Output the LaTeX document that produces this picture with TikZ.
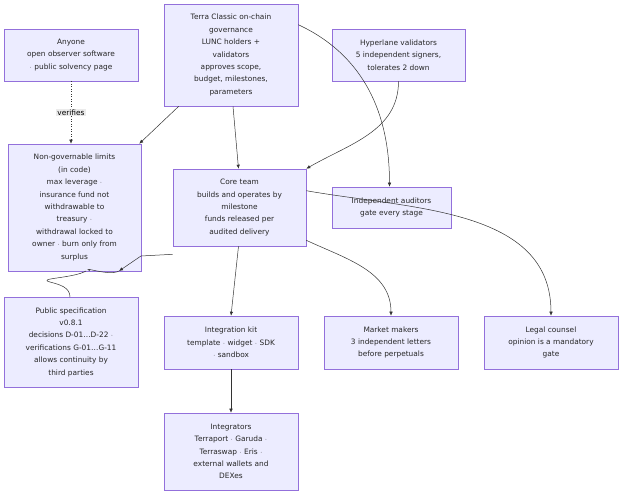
\documentclass[tikz,border=0pt]{standalone}
\usepackage{fontspec}
\setmainfont{DejaVu Sans}
\usetikzlibrary{arrows.meta}
\definecolor{boxfill}{HTML}{ECECFF}
\definecolor{boxline}{HTML}{9370DB}
\definecolor{edgeline}{HTML}{333333}
\tikzset{
  box/.style={draw=boxline,fill=boxfill,line width=0.6pt,align=center,inner sep=0pt,
    font=\fontsize{7.4}{12.4}\selectfont,text=black!85},
  flow/.style={draw=edgeline,line width=0.5pt,-{Latex[length=4pt,width=3.5pt]}},
}
\newcommand{\mkbox}[6]{% name, x1,y1,x2,y2, text
  \node[box,minimum width=#4pt-#2pt,minimum height=#5pt-#3pt] (#1) at ({(#2+#4)/2*1pt},{-(#3+#5)/2*1pt}) {#6};}
\begin{document}
\begin{tikzpicture}[x=1pt,y=1pt]
\useasboundingbox (0,0) rectangle (629,-500);
\mkbox{anyone}{4}{29}{138}{81}{Anyone\\open observer software\\$\cdot$ public solvency page}
\mkbox{terra}{164}{4}{298}{106}{Terra Classic on-chain\\governance\\LUNC holders +\\validators\\approves scope,\\budget, milestones,\\parameters}
\mkbox{hyper}{332}{29}{465}{81}{Hyperlane validators\\5 independent signers,\\tolerates 2 down}
\mkbox{limits}{8}{144}{141}{271}{Non-governable limits\\(in code)\\max leverage $\cdot$\\insurance fund not\\withdrawable to\\treasury $\cdot$\\withdrawal locked to\\owner $\cdot$ burn only from\\surplus}
\mkbox{core}{173}{169}{306}{246}{Core team\\builds and operates by\\milestone\\funds released per\\audited delivery}
\mkbox{audit}{332}{187}{451}{228}{Independent auditors\\gate every stage}
\mkbox{spec}{4}{297}{138}{387}{Public specification\\v0.8.1\\decisions D-01\ldots D-22 $\cdot$\\verifications G-01\ldots G-11\\allows continuity by\\third parties}
\mkbox{kit}{164}{316}{298}{369}{Integration kit\\template $\cdot$ widget $\cdot$ SDK\\$\cdot$ sandbox}
\mkbox{market}{324}{316}{458}{369}{Market makers\\3 independent letters\\before perpetuals}
\mkbox{legal}{484}{316}{618}{369}{Legal counsel\\opinion is a mandatory\\gate}
\mkbox{integr}{164}{413}{298}{490}{Integrators\\Terraport $\cdot$ Garuda $\cdot$\\Terraswap $\cdot$ Eris $\cdot$\\external wallets and\\DEXes}
% edges
\draw[flow,dotted] (anyone.south) -- node[fill=black!8,inner sep=1pt,font=\fontsize{7.4}{9}\selectfont]{verifies} (limits.north -| anyone.south);
\draw[flow] (terra.south west)++(15,0) -- ([xshift=-2]limits.north east);
\draw[flow] ([xshift=2]terra.south) -- ([xshift=-1]core.north);
\draw[flow] ([yshift=-21]terra.north east) to[out=-25,in=90] ([xshift=-2]audit.north);
\draw[flow] (hyper.south) to[out=-90,in=30] (core.north east);
\draw[line width=0.5pt,draw=edgeline] ([yshift=-8]core.south west) -- (141,-256);
\draw[flow] (50,-282) to[out=-15,in=90] (70,-297) (141,-256) -- (119,-271);
\draw[line width=0.5pt,draw=edgeline] (119,-271) to[out=-150,in=150] (90,-271);
\draw[line width=0.5pt,draw=edgeline] (86,-271) to[out=-150,in=165] (50,-282);
\draw[flow] ([xshift=-1]core.south) -- (kit.north);
\draw[flow] ([yshift=6]core.south east) to[out=-25,in=90] (market.north);
\draw[flow] ([yshift=-22]core.north east) to[out=-10,in=90] (legal.north);
\draw[flow] (kit) -- (integr);
\end{tikzpicture}
\end{document}
